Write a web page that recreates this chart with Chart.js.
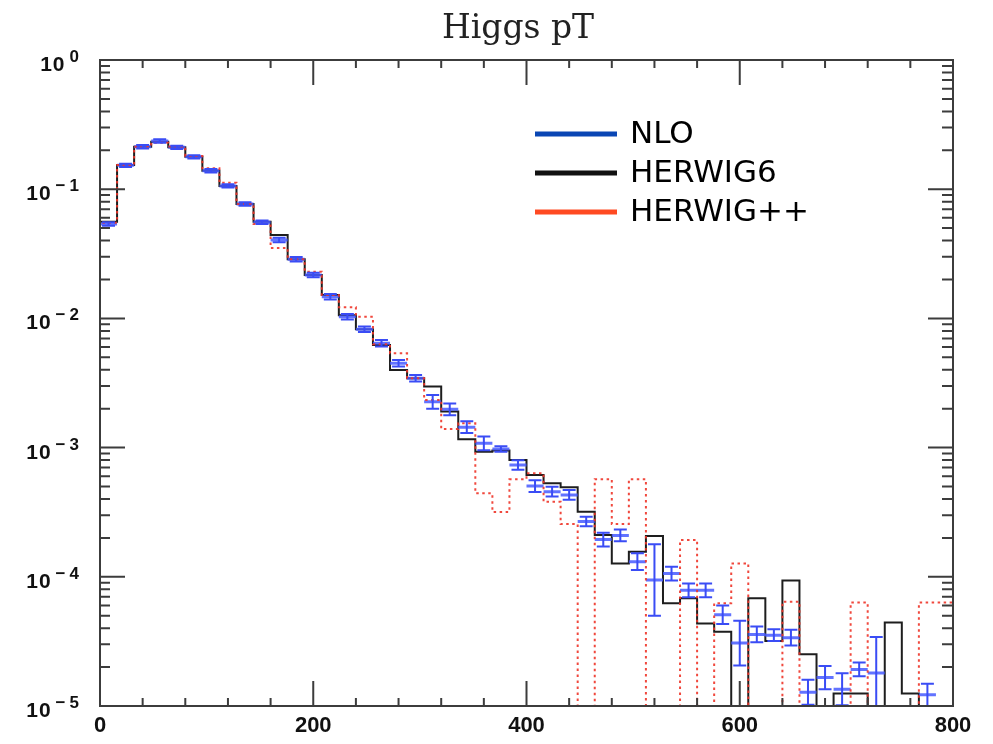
<!DOCTYPE html>
<html>
<head>
<meta charset="utf-8">
<script src="https://cdn.jsdelivr.net/npm/chart.js@4.4.1/dist/chart.umd.min.js"></script>
<style>
html,body{margin:0;padding:0;background:#fff;}
#wrap{width:993px;height:744px;position:relative;}
</style>
</head>
<body>
<div id="wrap"><canvas id="c" width="993" height="744"></canvas></div>
<script>
// ---- data ----
const chartTitle = 'Higgs pT';
const seriesNames = ['NLO', 'HERWIG6', 'HERWIG++'];
// bin edges of the Higgs pT histogram (GeV)
const binEdges = [0,16,32,48,64,80,96,112,128,144,160,176,192,208,224,240,256,272,288,304,
  320,336,352,368,384,400,416,432,448,464,480,496,512,528,544,560,576,592,608,624,
  640,656,672,688,704,720,736,752,768,784,800];
// NLO central values (0 = empty bin)
const nloValues = [0.0538,0.153,0.213,0.236,0.211,0.178,0.139,0.106,0.0768,0.0555,
  0.0404,0.0287,0.0217,0.0147,0.0103,0.00823,0.00641,0.00449,0.00344,0.00226,
  0.00198,0.00144,0.00108,0.000975,0.000733,0.000504,0.000456,0.00043,0.000268,0.000194,
  0.000209,0.000131,0.0000944,0.000106,0.0000786,0.0000786,0.0000508,0.0000307,0.0000358,0.0000353,
  0.0000338,0.0000128,0.0000166,0.0000135,0.0000192,0.000018,0,0,0.0000122,0];
// NLO relative error (multiplicative: hi = v*(1+e), lo = v/(1+e))
const nloErrors = [0.03,0.03,0.03,0.03,0.03,0.03,0.03,0.03,0.03,0.03,
  0.04,0.04,0.04,0.05,0.05,0.05,0.06,0.06,0.06,0.13,
  0.11,0.11,0.13,0.05,0.09,0.11,0.09,0.09,0.09,0.13,
  0.11,0.16,0.89,0.13,0.13,0.13,0.18,0.49,0.15,0.11,
  0.15,0.25,0.23,0.33,0.13,0.9,0,0,0.22,0];
const herwig6Values = [0.0560,0.154,0.213,0.233,0.211,0.178,0.139,0.106,0.0768,0.0560,
  0.0442,0.0287,0.0217,0.0152,0.0106,0.00823,0.00622,0.00399,0.00344,0.00297,
  0.00190,0.00116,0.00093,0.00095,0.00080,0.000614,0.000529,0.000493,0.000319,0.000211,
  0.000127,0.000156,0.000207,0.0000624,0.0000682,0.0000436,0.0000376,0,0.0000682,0.0000318,
  0.0000936,0.0000251,0,0.0000125,0.0000125,0,0.0000442,0.0000125,0,0];
const herwigppValues = [0.055,0.154,0.213,0.229,0.214,0.181,0.145,0.112,0.0768,0.0538,
  0.0350,0.0287,0.0230,0.0152,0.0122,0.0103,0.0063,0.00537,0.00344,0.00234,
  0.00139,0.00154,0.000443,0.000318,0.000568,0.000633,0.000381,0.000256,0,0.00057,
  0.000256,0.00057,0,0,0.000193,0,0.0000623,0.000127,0,0,
  0.0000641,0,0,0,0.0000632,0,0,0,0.0000632,0.0000632];
const xTickValues = [0,200,400,600,800];
const xTickLabels = ['0','200','400','600','800'];
const yTickValues = [1,0.1,0.01,0.001,0.0001,0.00001];
const yTickBase = '10';
const yTickExponents = ['0','\u22121','\u22122','\u22123','\u22124','\u22125'];

// ---- styles ----
const nloLine = 'rgba(70,90,255,0.85)';
const nloBar = '#3a4cf5';
const h6Line = '#1e1e1e';
const hppLine = 'rgba(238,52,40,0.9)';
const legendColors = ['#0a46b4', '#111111', '#ff4a22'];
const FLOOR = 1e-7; // empty bins drop below the axis (clipped)

function stepPoints(vals) {
  const pts = [{x: binEdges[0], y: FLOOR}];
  for (let i = 0; i < vals.length; i++) {
    pts.push({x: binEdges[i], y: vals[i] > 0 ? vals[i] : FLOOR});
  }
  const last = vals[vals.length - 1];
  pts.push({x: binEdges[binEdges.length - 1], y: last > 0 ? last : FLOOR});
  return pts;
}
function segmentPoints(vals) {
  const pts = [];
  for (let i = 0; i < vals.length; i++) {
    if (!(vals[i] > 0)) continue;
    pts.push({x: binEdges[i], y: vals[i]});
    pts.push({x: binEdges[i + 1], y: vals[i]});
    pts.push({x: binEdges[i + 1], y: null});
  }
  return pts;
}

const errorBarPlugin = {
  id: 'nloErrors',
  afterDatasetsDraw(chart) {
    const {ctx, chartArea: a, scales: {x, y}} = chart;
    ctx.save();
    ctx.beginPath();
    ctx.rect(a.left, a.top, a.right - a.left, a.bottom - a.top);
    ctx.clip();
    ctx.strokeStyle = nloBar;
    ctx.lineWidth = 2;
    for (let i = 0; i < nloValues.length; i++) {
      const v = nloValues[i], e = nloErrors[i];
      if (!(v > 0) || !(e > 0)) continue;
      const hi = v * (1 + e), lo = v / (1 + e);
      const x0 = x.getPixelForValue(binEdges[i]);
      const x1 = x.getPixelForValue(binEdges[i + 1]);
      const xc = (x0 + x1) / 2, hw = (x1 - x0) * 0.38;
      const yh = y.getPixelForValue(hi);
      const yl = lo < y.min ? a.bottom + 5 : y.getPixelForValue(lo);
      ctx.beginPath();
      ctx.moveTo(xc, yh); ctx.lineTo(xc, yl);
      ctx.moveTo(xc - hw, yh); ctx.lineTo(xc + hw, yh);
      ctx.moveTo(xc - hw, yl); ctx.lineTo(xc + hw, yl);
      ctx.stroke();
    }
    ctx.restore();
  }
};

const framePlugin = {
  id: 'frame',
  afterDraw(chart) {
    const {ctx, chartArea: a, scales: {x, y}} = chart;
    ctx.save();
    ctx.strokeStyle = '#3c3c3c';
    ctx.lineWidth = 2;
    ctx.strokeRect(a.left, a.top, a.right - a.left, a.bottom - a.top);
    ctx.beginPath();
    // x ticks (inside, bottom and top)
    for (let v = x.min; v <= x.max + 0.001; v += 40) {
      const px = x.getPixelForValue(v);
      const major = xTickValues.includes(v);
      const len = major ? 25 : 8;
      ctx.moveTo(px, a.bottom); ctx.lineTo(px, a.bottom - len);
      ctx.moveTo(px, a.top); ctx.lineTo(px, a.top + len);
    }
    // y ticks (inside, left and right)
    for (let d = -5; d <= 0; d++) {
      const base = Math.pow(10, d);
      const py = y.getPixelForValue(base);
      ctx.moveTo(a.left, py); ctx.lineTo(a.left + 25, py);
      ctx.moveTo(a.right, py); ctx.lineTo(a.right - 25, py);
      if (d === 0) continue;
      for (let m = 2; m <= 9; m++) {
        const pm = y.getPixelForValue(m * base);
        ctx.moveTo(a.left, pm); ctx.lineTo(a.left + 10, pm);
        ctx.moveTo(a.right, pm); ctx.lineTo(a.right - 11, pm);
      }
    }
    ctx.stroke();

    // y tick labels: "10" with a raised exponent
    ctx.fillStyle = '#111';
    ctx.textBaseline = 'alphabetic';
    ctx.textAlign = 'left';
    const baseFont = 'bold 21px "Liberation Sans"';
    const expFont = 'bold 17px "Liberation Sans"';
    const rightEdge = a.left - 21;
    yTickValues.forEach((v, i) => {
      const py = y.getPixelForValue(v);
      ctx.font = baseFont;
      ctx.letterSpacing = '1px';
      const wb = ctx.measureText(yTickBase).width;
      ctx.font = expFont;
      ctx.letterSpacing = '4px';
      const we = ctx.measureText(yTickExponents[i]).width - 4;
      const x0 = rightEdge - we - 4 - wb;
      ctx.font = baseFont;
      ctx.letterSpacing = '1px';
      ctx.fillText(yTickBase, x0, py + 11);
      ctx.font = expFont;
      ctx.letterSpacing = '4px';
      ctx.fillText(yTickExponents[i], x0 + wb + 4, py + 2);
    });
    ctx.letterSpacing = '0px';
    ctx.restore();
  }
};

const legendPlugin = {
  id: 'floatLegend',
  afterDraw(chart) {
    const {ctx, chartArea: a} = chart;
    const x0 = a.left + 435, x1 = a.left + 517, tx = a.left + 530;
    const rows = [a.top + 74, a.top + 113, a.top + 152];
    ctx.save();
    ctx.font = '31px "DejaVu Sans"';
    ctx.textBaseline = 'middle';
    ctx.textAlign = 'left';
    seriesNames.forEach((name, i) => {
      ctx.strokeStyle = legendColors[i];
      ctx.lineWidth = 5;
      ctx.beginPath();
      ctx.moveTo(x0, rows[i]); ctx.lineTo(x1, rows[i]);
      ctx.stroke();
      ctx.fillStyle = '#000';
      ctx.fillText(name, tx, rows[i] + 1);
    });
    ctx.restore();
  }
};

new Chart(document.getElementById('c'), {
  type: 'line',
  data: {
    datasets: [
      {label: seriesNames[2], data: stepPoints(herwigppValues), stepped: 'before',
       borderColor: hppLine, borderWidth: 2, borderDash: [2.5, 3.5], pointRadius: 0, fill: false, order: 0},
      {label: seriesNames[0], data: segmentPoints(nloValues), spanGaps: false,
       borderColor: nloLine, borderWidth: 3, pointRadius: 0, fill: false, order: 1},
      {label: seriesNames[1], data: stepPoints(herwig6Values), stepped: 'before',
       borderColor: h6Line, borderWidth: 2, pointRadius: 0, fill: false, order: 2}
    ]
  },
  options: {
    responsive: false,
    animation: false,
    devicePixelRatio: 1,
    layout: {padding: {left: 83, right: 40, top: 0, bottom: 0}},
    plugins: {
      legend: {display: false},
      tooltip: {enabled: false},
      title: {
        display: true, text: chartTitle, color: '#222',
        font: {family: '"DejaVu Serif"', size: 33, weight: 'normal'},
        padding: {top: 10, bottom: 10.4}
      }
    },
    scales: {
      x: {
        type: 'linear', min: 0, max: 800,
        afterBuildTicks: s => { s.ticks = xTickValues.map(v => ({value: v})); },
        afterFit: s => { s.height = 38; },
        grid: {display: false, drawTicks: false},
        border: {display: false},
        ticks: {
          autoSkip: false, maxRotation: 0, padding: 7, color: '#111',
          font: {family: '"Liberation Sans"', size: 22, weight: 'bold'},
          callback: (v) => { const k = xTickValues.indexOf(v); return k >= 0 ? xTickLabels[k] : ''; }
        }
      },
      y: {
        type: 'logarithmic', min: 0.00001, max: 1,
        afterBuildTicks: s => { s.ticks = yTickValues.map(v => ({value: v})); },
        afterFit: s => { s.width = 17; },
        grid: {display: false, drawTicks: false},
        border: {display: false},
        ticks: {display: false}
      }
    }
  },
  plugins: [errorBarPlugin, framePlugin, legendPlugin]
});
</script>
</body>
</html>
